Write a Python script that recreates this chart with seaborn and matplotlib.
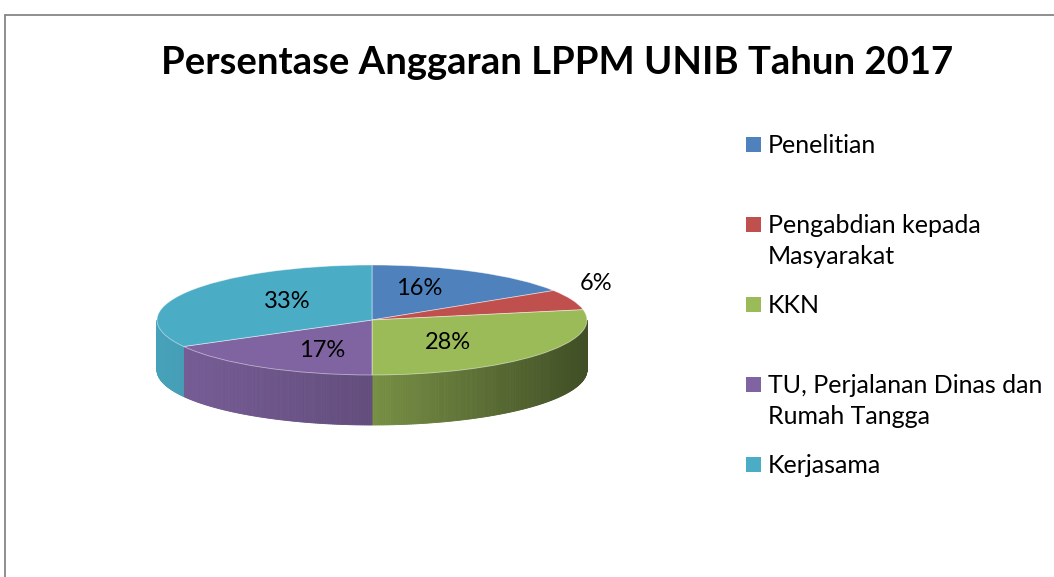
import textwrap
import matplotlib
matplotlib.use('Agg')
import matplotlib.pyplot as plt
from matplotlib.patches import Rectangle
from matplotlib.lines import Line2D
import numpy as np
import seaborn as sns

# data
categories = ['Penelitian', 'Pengabdian kepada Masyarakat', 'KKN',
              'TU, Perjalanan Dinas dan Rumah Tangga', 'Kerjasama']
percentages = [16, 6, 28, 17, 33]
colors = ['#4F81BD', '#C0504D', '#9BBB59', '#8064A2', '#4BACC6']
title = 'Persentase Anggaran LPPM UNIB Tahun 2017'

sns.set_theme(style='white')
plt.rcParams['font.family'] = ['Lato', 'DejaVu Sans']
palette = sns.color_palette(colors)

W, H = 1054, 577
fig = plt.figure(figsize=(W / 100, H / 100), dpi=100)
fig.patch.set_facecolor('white')

# pie geometry (pixels): centre, radii of the tilted disc and its depth
cx, cy, rx, ry, depth = 372, 320, 215, 55, 50
xlim, ylim = (-1.4, 1.4), (-2.5, 1.6)
left, right = cx + xlim[0] * rx, cx + xlim[1] * rx
top, bottom = cy - ylim[1] * ry, cy - ylim[0] * ry
ax = fig.add_axes([left / W, 1 - bottom / H, (right - left) / W, (bottom - top) / H])

wedges, _, autotexts = ax.pie(
    percentages, colors=palette, startangle=90, counterclock=False,
    autopct='%1.0f%%', pctdistance=0.6,
    wedgeprops=dict(linewidth=0.6, edgecolor=(1, 1, 1, 0.5)),
    textprops=dict(fontsize=17, color='black'))
ax.set_aspect('auto')
ax.set_xlim(xlim)
ax.set_ylim(ylim)
ax.axis('off')

# side wall of the disc (front half only), shaded darker to the right
d = depth / ry


def shade(x):
    return 0.77 - 0.35 * x if x > 0 else 0.77 - 0.17 * x


for w, col in zip(wedges, palette):
    lo, hi = w.theta1, w.theta2
    for a, b in [(-180, 0), (180, 360), (-540, -360)]:
        s, e = max(lo, a), min(hi, b)
        if e <= s:
            continue
        ts = np.radians(np.linspace(s, e, max(3, int((e - s) * 2))))
        for t0, t1 in zip(ts[:-1], ts[1:]):
            f = shade(np.cos((t0 + t1) / 2))
            c = tuple(np.clip(np.array(col) * f, 0, 1))
            ax.fill([np.cos(t0), np.cos(t1), np.cos(t1), np.cos(t0)],
                    [np.sin(t0), np.sin(t1), np.sin(t1) - d, np.sin(t0) - d],
                    color=c, lw=0.6, zorder=0.5)

# label placement similar to Excel's perspective view
for w, t, v in zip(wedges, autotexts, percentages):
    mid = np.radians((w.theta1 + w.theta2) / 2)
    if v < 10:
        t.set_position((1.12 * np.cos(mid), 1.12 * np.sin(mid) + 0.25))
    else:
        t.set_position((0.46 * np.cos(mid), 0.65 * np.sin(mid)))
    t.set_ha('center')
    t.set_va('center')

# title
fig.text(557 / W, 1 - 63 / H, title, ha='center', va='center',
         fontsize=27.5, fontweight='bold', color='black')

# legend
sq, leg_x, leg_y0, pitch = 15, 746, 137, 80
for i, (name, col) in enumerate(zip(categories, palette)):
    y = leg_y0 + i * pitch
    fig.patches.append(Rectangle((leg_x / W, 1 - (y + sq) / H), sq / W, sq / H,
                                 transform=fig.transFigure, facecolor=col,
                                 edgecolor='none'))
    fig.text(768 / W, 1 - (y - 3) / H, textwrap.fill(name, 24), ha='left',
             va='top', fontsize=18, linespacing=1.4, color='black')

# chart area border
border = '#868686'
fig.add_artist(Line2D([5 / W, 5 / W], [0, 1 - 15 / H], color=border, lw=1.3))
fig.add_artist(Line2D([5 / W, 1], [1 - 15 / H, 1 - 15 / H], color=border, lw=1.3))

fig.savefig('out.png', dpi=100)
plt.close(fig)
